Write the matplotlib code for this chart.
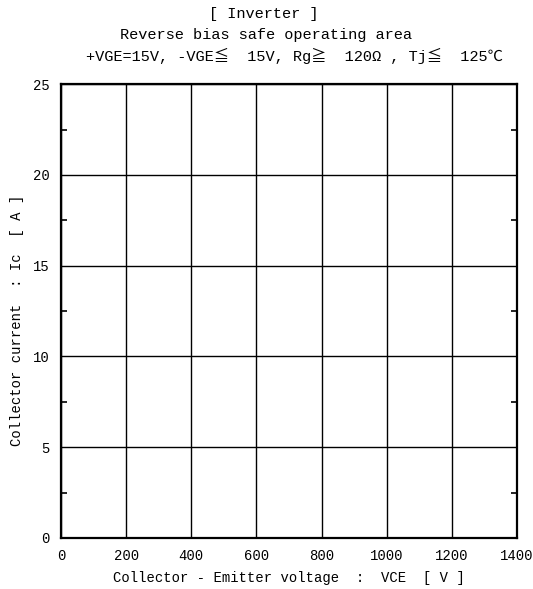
import numpy as np
import matplotlib
matplotlib.use('Agg')
import matplotlib.pyplot as plt
from matplotlib.ticker import MultipleLocator

plt.rcParams['font.family'] = ['Liberation Mono', 'Noto Sans CJK JP', 'DejaVu Sans']

x_ticks = [0, 200, 400, 600, 800, 1000, 1200, 1400]
y_ticks = [0, 5, 10, 15, 20, 25]
title_lines = ["[ Inverter ]",
               "Reverse bias safe operating area",
               "+VGE=15V, -VGE≦  15V, Rg≧  120Ω , Tj≦  125℃"]

fig = plt.figure(figsize=(5.33, 5.89), dpi=100)
ax = fig.add_axes([0.1144, 0.0866, 0.8556, 0.7704])

ax.set_xlim(x_ticks[0], x_ticks[-1])
ax.set_ylim(y_ticks[0], y_ticks[-1])
ax.set_xticks(x_ticks)
ax.set_yticks(y_ticks)
ax.yaxis.set_minor_locator(MultipleLocator(2.5))
ax.grid(True, which='major', color='black', linewidth=1.0)
ax.tick_params(which='major', length=0, labelsize=10, pad=8)
ax.tick_params(axis='y', which='minor', direction='in', length=4,
               width=1.2, left=True, right=True)
for s in ax.spines.values():
    s.set_linewidth(1.6)

ax.set_xlabel("Collector - Emitter voltage  :  VCE  [ V ]", fontsize=10, labelpad=6)
ax.set_ylabel("Collector current  : Ic  [ A ]", fontsize=10)
ax.yaxis.set_label_coords(-0.08, 0.48)

pos = [(0.495, 0.976), (0.5, 0.94), (0.553, 0.905)]
for t, (x, y) in zip(title_lines, pos):
    fig.text(x, y, t, ha='center', va='center', fontsize=11)

fig.savefig('out.png', dpi=100)
